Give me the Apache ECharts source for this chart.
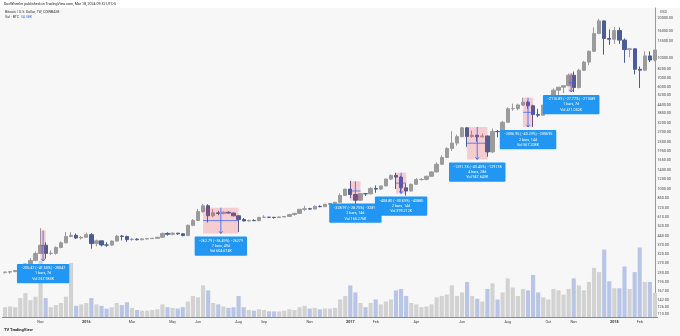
<!DOCTYPE html>
<html><head><meta charset="utf-8">
<script src="https://cdn.jsdelivr.net/npm/echarts@6/dist/echarts.min.js"></script>
<style>html,body{margin:0;padding:0;background:#f7f7f7}#c{width:680px;height:336px}</style>
</head><body><div id="c"></div>
<script>
const weeks = [
'2015-09-14','2015-09-21','2015-09-28','2015-10-05','2015-10-12','2015-10-19','2015-10-26','2015-11-02','2015-11-09','2015-11-16','2015-11-23','2015-11-30','2015-12-07','2015-12-14','2015-12-21','2015-12-28',
'2016-01-04','2016-01-11','2016-01-18','2016-01-25','2016-02-01','2016-02-08','2016-02-15','2016-02-22','2016-02-29','2016-03-07','2016-03-14','2016-03-21','2016-03-28','2016-04-04','2016-04-11','2016-04-18','2016-04-25','2016-05-02','2016-05-09','2016-05-16','2016-05-23','2016-05-30','2016-06-06','2016-06-13','2016-06-20','2016-06-27','2016-07-04','2016-07-11','2016-07-18','2016-07-25','2016-08-01','2016-08-08','2016-08-15','2016-08-22','2016-08-29','2016-09-05','2016-09-12','2016-09-19','2016-09-26','2016-10-03','2016-10-10','2016-10-17','2016-10-24','2016-10-31','2016-11-07','2016-11-14','2016-11-21','2016-11-28','2016-12-05','2016-12-12','2016-12-19','2016-12-26',
'2017-01-02','2017-01-09','2017-01-16','2017-01-23','2017-01-30','2017-02-06','2017-02-13','2017-02-20','2017-02-27','2017-03-06','2017-03-13','2017-03-20','2017-03-27','2017-04-03','2017-04-10','2017-04-17','2017-04-24','2017-05-01','2017-05-08','2017-05-15','2017-05-22','2017-05-29','2017-06-05','2017-06-12','2017-06-19','2017-06-26','2017-07-03','2017-07-10','2017-07-17','2017-07-24','2017-07-31','2017-08-07','2017-08-14','2017-08-21','2017-08-28','2017-09-04','2017-09-11','2017-09-18','2017-09-25','2017-10-02','2017-10-09','2017-10-16','2017-10-23','2017-10-30','2017-11-06','2017-11-13','2017-11-20','2017-11-27','2017-12-04','2017-12-11','2017-12-18','2017-12-25',
'2018-01-01','2018-01-08','2018-01-15','2018-01-22','2018-01-29','2018-02-05','2018-02-12','2018-02-19','2018-02-26'];

const opens = [231,232,234,239,247,268,285,322,372,322,323,358,388,434,443,423,
428,448,383,402,374,373,400,437,434,411,414,410,416,418,420,428,458,451,460,455,441,528,575,672,745,625,658,650,664,655,624,585,570,575,573,607,609,608,605,612,617,639,651,700,707,703,737,733,764,777,792,892,
998,908,822,921,918,1010,998,1055,1190,1270,1232,1021,965,1085,1180,1185,1250,1350,1545,1740,2040,2240,2510,2930,2520,2570,2500,2540,1920,2750,2740,3230,4100,4110,4380,4600,4320,3700,3660,4370,4600,5680,5990,6140,7380,5950,8050,9300,11250,15400,19200,14100,
13900,16200,13700,11600,11750,8200,8070,10370,9650];
const highs = [234,237,241,249,271,297,334,502,392,340,365,398,470,468,458,437,
465,460,410,403,392,405,445,445,440,423,421,422,423,425,431,465,467,465,462,458,535,590,705,770,765,700,680,675,675,661,630,600,583,588,612,630,612,612,615,620,645,658,700,745,718,750,750,770,780,797,925,1000,
1153,910,925,930,1030,1065,1060,1200,1290,1332,1260,1100,1100,1210,1210,1265,1365,1600,1810,2080,2760,2600,2980,2975,2790,2600,2660,2560,2900,2820,3310,4200,4480,4480,4980,4720,4400,4100,4380,4640,5860,6000,6200,7600,7880,8250,9500,11400,17170,19891,19300,16500,
17250,17100,14100,11950,11800,8600,11250,11250,11550];
const lows = [226,225,232,236,245,265,280,320,294,313,316,352,385,428,415,412,
427,350,365,365,362,368,398,405,395,403,405,405,411,415,418,425,440,442,446,435,438,520,572,660,555,610,630,640,650,620,470,565,565,570,568,603,600,595,600,607,615,625,648,680,695,697,725,730,752,765,785,885,
850,750,815,885,910,935,985,1050,1170,1000,940,890,960,1075,1160,1165,1240,1340,1530,1720,1950,2140,2480,2100,2460,2300,2480,1760,1880,2480,2700,3200,3950,3990,4300,4100,2975,3530,3650,4150,4580,5100,5400,6100,5500,5850,7980,8800,11100,15200,10600,12600,
12800,12800,9200,10100,7500,5900,8000,9300,9400];
const closes = [232,234,239,247,268,285,322,372,322,323,358,388,434,443,423,428,
448,383,402,374,373,400,437,434,411,414,410,416,418,420,428,458,451,460,455,441,528,575,672,745,625,658,650,664,655,624,585,570,575,573,607,609,608,605,612,617,639,651,700,707,703,737,733,764,777,792,892,998,
908,822,921,918,1010,998,1055,1190,1270,1232,1021,965,1085,1180,1185,1250,1350,1545,1740,2040,2240,2510,2930,2520,2570,2500,2540,1920,2750,2740,3230,4100,4110,4380,4600,4320,3700,3660,4370,4600,5680,5990,6140,7380,5950,8050,9300,11250,15400,19200,14100,13900,
16200,13700,11600,11750,8200,8070,10370,9650,11500];
// weekly volume, thousands of BTC
const volumes = [14,15,14,27,34,24,29,80,27,14,17,20,29,77,16,18,
20,27,18,16,12,14,20,17,21,13,10,9,9,10,11,18,14,13,12,14,22,30,28,45,38,20,18,15,13,14,30,14,10,9,11,10,8,8,8,9,11,10,14,16,12,13,11,12,12,13,25,30,
45,35,20,14,20,25,18,22,25,38,40,30,20,18,14,15,18,28,30,32,45,30,35,50,30,26,22,40,48,25,35,55,42,30,40,38,60,35,28,25,40,38,32,40,55,45,38,50,70,64,96,51,
41,41,72,40,64,99,50,50,34.38];

const priceTicks = [20000,16000,13500,10000,8200,7000,6000,5200,4400,3800,3200,2700,2300,1950,1650,1400,1200,1000,850,720,610,520,440,370,320,270,230,195,167,142,126,110];
const timeLabelWeeks = ['2015-11-02','2016-01-04','2016-03-07','2016-05-02','2016-06-06','2016-08-01','2016-09-05','2016-11-07','2017-01-02','2017-02-06','2017-04-03','2017-06-05','2017-08-07','2017-10-02','2017-11-06','2018-01-01','2018-02-05'];
const timeLabelTexts = ['Nov','2016','Mar','May','Jun','Aug','Sep','Nov','2017','Feb','Apr','Jun','Aug','Oct','Nov','2018','Feb'];

// price-range measurements drawn on the chart
const annStart = ['2015-11-02','2016-06-13','2017-01-02','2017-03-06','2017-06-12','2017-08-28','2017-10-30'];
const annEnd   = ['2015-11-09','2016-08-01','2017-01-16','2017-03-20','2017-07-10','2017-09-11','2017-11-06'];
const annHigh  = [482.72, 720.18, 1144.24, 1332.0, 2973.0, 4981.0, 7623.0];
const annLow   = [282.25, 457.39, 815.27, 923.2, 1681.2, 2974.1, 5506.1];
const annLine1 = ['−200.47 (−41.53%) −20047','−262.79 (−36.49%) −26279','−328.97 (−28.75%) −32897','−408.80 (−30.69%) −40880','−1291.78 (−43.45%) −129178','−2006.95 (−40.29%) −200695','−2116.89 (−27.77%) −211689'];
const annLine2 = ['1 bars, 7d','7 bars, 49d','2 bars, 14d','2 bars, 14d','4 bars, 28d','2 bars, 14d','1 bars, 7d'];
const annLine3 = ['Vol 267.983K','Vol 604.674K','Vol 165.276K','Vol 399.212K','Vol 947.643K','Vol 567.208K','Vol 411.052K'];

const UP = '#9b9b9b', DOWN = '#4b5d98';
const candleData = weeks.map((w, i) => [opens[i], closes[i], lows[i], highs[i]]);
const volData = weeks.map((w, i) => ({value: volumes[i], itemStyle: {color: closes[i] >= opens[i] ? '#d2d2d2' : '#b8c5e6'}}));
const annData = annStart.map((s, i) => [s, annEnd[i], annHigh[i], annLow[i]]);
const lastClose = closes[closes.length - 1];

const FS = 3.7;
const chart = echarts.init(document.getElementById('c'), null, {renderer: 'canvas'});
chart.setOption({
  animation: false,
  backgroundColor: '#f7f7f7',
  grid: [
    {left: 2.5, right: 22.5, top: 8, bottom: 19},
    {left: 2.5, right: 22.5, top: 230, bottom: 19}
  ],
  xAxis: [
    {type: 'category', data: weeks, gridIndex: 0, boundaryGap: true,
     axisLine: {show: true, lineStyle: {color: '#8a8a8a', width: 1}},
     axisTick: {show: false}, splitLine: {show: false},
     axisLabel: {
       interval: (idx, val) => timeLabelWeeks.indexOf(val) >= 0,
       formatter: (val) => {
         const t = timeLabelTexts[timeLabelWeeks.indexOf(val)] || '';
         return /^\d{4}$/.test(t) ? '{b|' + t + '}' : t;
       },
       rich: {b: {fontWeight: 'bold', fontSize: FS, color: '#333', fontFamily: 'Roboto'}},
       fontSize: FS, color: '#444', margin: 3, fontFamily: 'Roboto'
     }},
    {type: 'category', data: weeks, gridIndex: 1, boundaryGap: true, show: false}
  ],
  yAxis: [
    {type: 'log', gridIndex: 0, position: 'right', min: 105.4, max: 24080, offset: -2.5,
     axisLine: {show: true, lineStyle: {color: '#9a9a9a', width: 1}},
     axisTick: {show: false}, splitLine: {show: false},
     axisLabel: {customValues: priceTicks, formatter: v => Number(v).toFixed(2),
                 fontSize: FS, color: '#444', margin: 2.5, fontFamily: 'Roboto'}},
    {type: 'value', gridIndex: 1, min: 0, max: 124, show: false}
  ],
  series: [
    {type: 'bar', xAxisIndex: 1, yAxisIndex: 1, data: volData, barWidth: '82%', z: 1, silent: true},
    {type: 'candlestick', xAxisIndex: 0, yAxisIndex: 0, data: candleData, barWidth: 3.8, z: 3,
     itemStyle: {color: UP, color0: DOWN, borderColor: UP, borderColor0: DOWN, borderWidth: 1},
     markLine: {symbol: 'none', silent: true,
       lineStyle: {opacity: 0},
       label: {show: true, position: 'end', formatter: () => lastClose.toFixed(2), fontSize: FS, color: '#444',
               backgroundColor: '#ececec', borderColor: '#9b9b9b', borderWidth: 0.6, padding: [1, 2], distance: 1, fontFamily: 'Roboto'},
       data: [{yAxis: lastClose}]}
    },
    {type: 'custom', xAxisIndex: 0, yAxisIndex: 0, data: annData, z: 10, clip: false,
     encode: {x: [0, 1], y: [2, 3]},
     renderItem: (params, api) => {
       const i = params.dataIndex;
       const p1 = api.coord([api.value(0), api.value(2)]);
       const p2 = api.coord([api.value(1), api.value(3)]);
       const x1 = p1[0], x2 = p2[0], y1 = p1[1], y2 = p2[1];
       const cx = (x1 + x2) / 2, cy = (y1 + y2) / 2;
       const blue = '#2962ff';
       return {type: 'group', children: [
         {type: 'rect', shape: {x: x1, y: y1, width: Math.max(x2 - x1, 1), height: y2 - y1}, style: {fill: 'rgba(242,54,69,0.22)'}},
         {type: 'line', shape: {x1: x1, y1: cy, x2: x2, y2: cy}, style: {stroke: blue, lineWidth: 0.7}},
         {type: 'line', shape: {x1: cx, y1: y1, x2: cx, y2: y2}, style: {stroke: blue, lineWidth: 0.8}},
         {type: 'polyline', shape: {points: [[cx - 1.8, y2 - 2.2], [cx, y2], [cx + 1.8, y2 - 2.2]]}, style: {stroke: blue, lineWidth: 0.8, fill: null}},
         {type: 'text', style: {x: cx, y: y2 + 3, text: [annLine1[i], annLine2[i], annLine3[i]].join('\n'),
            fill: '#ffffff', font: FS + 'px Roboto', align: 'center', verticalAlign: 'top', lineHeight: 5.4,
            backgroundColor: '#2196f3', padding: [1.5, 4, 1.5, 4], borderRadius: 1}}
       ]};
     }}
  ],
  graphic: [
    {type: 'rect', left: 0, top: 0, shape: {width: 680, height: 8}, style: {fill: '#ffffff'}, z: 0, silent: true},
    {type: 'text', left: 4, top: 2, style: {text: 'DocWheeler published on TradingView.com, Mar 18, 2024 09:32 UTC-5', fill: '#222', font: '3.6px Roboto'}},
    {type: 'text', left: 5, top: 10, style: {text: 'Bitcoin / U.S. Dollar, 1W, COINBASE', fill: '#333', font: '3.5px Roboto'}},
    {type: 'text', left: 5, top: 15, style: {text: 'Vol · BTC  {v|34.38K}', fill: '#333', font: '3.5px Roboto', rich: {v: {fill: '#3b6fd6', font: '3.5px Roboto'}}}},
    {type: 'text', left: 660, top: 10, style: {text: 'USD', fill: '#444', font: '3.6px Roboto'}},
    {type: 'text', left: 4, top: 328, style: {text: '{t|TV} TradingView', fill: '#222', font: 'bold 4px Roboto', rich: {t: {fill: '#131722', font: 'bold 4px Roboto'}}}}
  ]
});
</script>
</body></html>
